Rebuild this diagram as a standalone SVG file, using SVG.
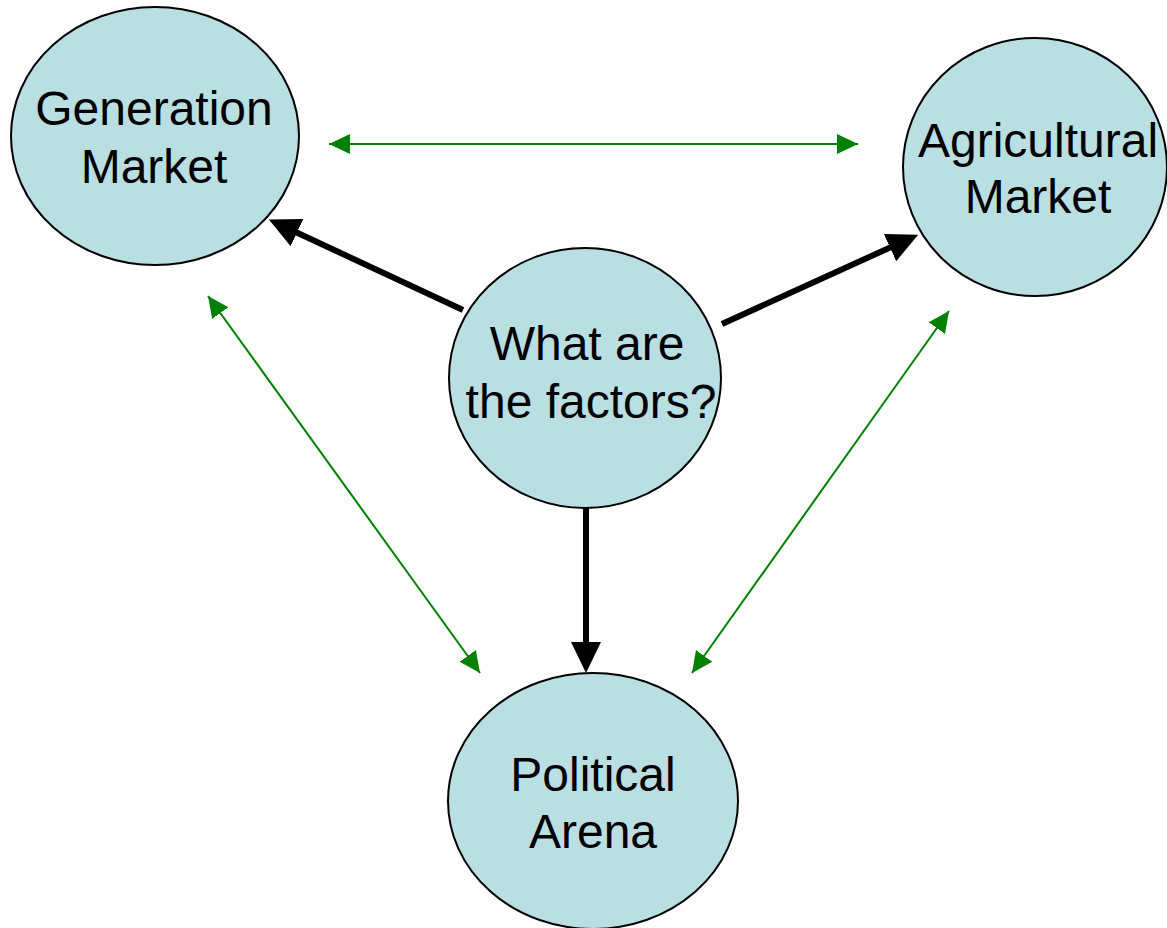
<svg xmlns="http://www.w3.org/2000/svg" width="1167" height="928" viewBox="0 0 1167 928">
<style>
.node{fill:#B9DFE3;stroke:#000;stroke-width:2}
.lbl{font-family:"Liberation Sans",Arial,sans-serif;font-size:48px;fill:#000;text-anchor:middle}
.blk{stroke:#000;stroke-width:6;fill:none}
.grn{stroke:#008000;stroke-width:2;fill:none}
</style>
<defs>
<marker id="bh" markerUnits="userSpaceOnUse" markerWidth="32" markerHeight="32" viewBox="0 0 32 32" refX="11" refY="16" orient="auto">
<path d="M0,1 L31,16 L0,31 Z" fill="#000"/>
</marker>
<marker id="gh" markerUnits="userSpaceOnUse" markerWidth="22" markerHeight="22" viewBox="0 0 22 22" refX="21" refY="11" orient="auto-start-reverse">
<path d="M0,1 L21,11 L0,21 Z" fill="#008000"/>
</marker>
</defs>
<rect width="1167" height="928" fill="#fff"/>
<g id="gen">
<ellipse class="node" cx="155" cy="136" rx="144" ry="129"/>
<text class="lbl" x="154" y="125">Generation</text>
<text class="lbl" x="154" y="183">Market</text>
</g>
<g id="agr">
<ellipse class="node" cx="1035" cy="167" rx="132" ry="129"/>
<text class="lbl" x="1038" y="157">Agricultural</text>
<text class="lbl" x="1038" y="213">Market</text>
</g>
<g id="center">
<ellipse class="node" cx="585" cy="378" rx="136" ry="130"/>
<text class="lbl" x="587" y="360">What are</text>
<text class="lbl" x="591" y="418">the factors?</text>
</g>
<g id="pol">
<ellipse class="node" cx="593" cy="801" rx="145" ry="128"/>
<text class="lbl" x="593" y="791">Political</text>
<text class="lbl" x="593" y="848">Arena</text>
</g>
<g id="connectors">
<line class="blk" x1="463" y1="310" x2="287" y2="228" marker-end="url(#bh)"/>
<line class="blk" x1="722" y1="324" x2="900" y2="243" marker-end="url(#bh)"/>
<line class="blk" x1="586" y1="508" x2="586" y2="653" marker-end="url(#bh)"/>
<line class="grn" x1="329" y1="144" x2="858" y2="144" marker-start="url(#gh)" marker-end="url(#gh)"/>
<line class="grn" x1="208" y1="296" x2="480" y2="673" marker-start="url(#gh)" marker-end="url(#gh)"/>
<line class="grn" x1="949" y1="311" x2="692" y2="673" marker-start="url(#gh)" marker-end="url(#gh)"/>
</g>
</svg>
